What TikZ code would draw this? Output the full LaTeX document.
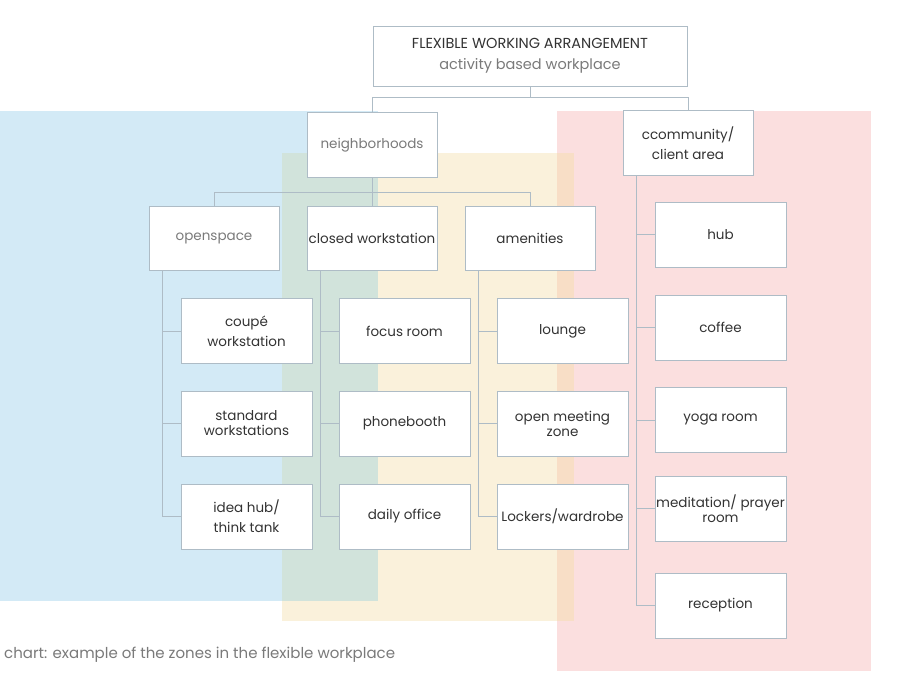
\documentclass[tikz,border=0pt]{standalone}
\usepackage{fontspec}
\setmainfont{Poppins}
\begin{document}
\begin{tikzpicture}[x=1pt,y=-1pt,
 bx/.style={draw=lineC,fill=white,line width=0.8pt,minimum width=130pt,minimum height=65pt,align=center,font=\fontsize{13.5}{20}\selectfont,text=txt,inner sep=0pt},
 tight/.style={font=\fontsize{13.5}{15}\selectfont},
 ln/.style={draw=lineC,line width=0.8pt}]
\definecolor{lineC}{HTML}{AEBCC6}
\definecolor{txt}{HTML}{333333}
\definecolor{lt}{HTML}{7A7A7A}
\definecolor{zb}{HTML}{D3EAF6}
\definecolor{zy}{HTML}{FAF1DB}
\definecolor{zg}{HTML}{D1E3DB}
\definecolor{zp}{HTML}{FBDFDF}
\definecolor{zo}{HTML}{F8DEC6}
\useasboundingbox (0,0) rectangle (897,682);
\fill[white] (0,0) rectangle (897,682);
\fill[zb] (0,111) rectangle (378,601);
\fill[zy] (282,153) rectangle (574,621);
\fill[zg] (282,153) rectangle (378,601);
\fill[zp] (557,111) rectangle (871,671);
\fill[zo] (557,153) rectangle (574,621);
% top
\node[bx,minimum width=314pt,minimum height=60pt,font=\fontsize{14.5}{21}\selectfont] (top) at (530,56) {FLEXIBLE WORKING ARRANGEMENT\\\textcolor{lt}{activity based workplace}};
\node[bx,text=lt] (nb) at (372,145) {neighborhoods};
\node[bx] (cc) at (688,143) {ccommunity/\\client area};
\node[bx,text=lt,minimum height=64pt] (os) at (214,238) {openspace};
\node[bx,minimum height=64pt] (cw) at (372,238) {closed workstation};
\node[bx,minimum height=64pt] (am) at (530,238) {amenities};
% kids
\node[bx,minimum width=131pt] (a1) at (246.5,331) {coupé\\workstation};
\node[bx,minimum width=131pt,tight] (a2) at (246.5,423.5) {standard\\workstations};
\node[bx,minimum width=131pt] (a3) at (246.5,516.5) {idea hub/\\think tank};
\node[bx,minimum width=131pt] (b1) at (404.5,331) {focus room};
\node[bx,minimum width=131pt] (b2) at (404.5,423.5) {phonebooth};
\node[bx,minimum width=131pt] (b3) at (404.5,516.5) {daily office};
\node[bx,minimum width=131pt] (c1) at (562.5,331) {lounge};
\node[bx,minimum width=131pt,tight] (c2) at (562.5,423.5) {open meeting\\zone};
\node[bx,minimum width=131pt] (c3) at (562.5,516.5) {Lockers/wardrobe};
\node[bx,minimum width=131pt] (d1) at (720.5,234.5) {hub};
\node[bx,minimum width=131pt] (d2) at (720.5,327.5) {coffee};
\node[bx,minimum width=131pt] (d3) at (720.5,420) {yoga room};
\node[bx,minimum width=131pt,tight] (d4) at (720.5,508.5) {meditation/ prayer\\room};
\node[bx,minimum width=131pt] (d5) at (720.5,605.5) {reception};
% connectors
\draw[ln] (top.south) -- ++(0,11) coordinate (t1);
\draw[ln] (nb.north) |- (t1) -| (cc.north);
\draw[ln] (nb.south) -- ++(0,14) coordinate (n1);
\draw[ln] (os.north) |- (n1) -| (am.north);
\draw[ln] (cw.north) -- (n1);
\foreach \p/\x/\k in {os/162/a,cw/320/b,am/478/c}{
  \draw[ln] (\p.south -| \x,0) |- (\k3.west);
  \draw[ln] (\x,0 |- \k1.west) -- (\k1.west);
  \draw[ln] (\x,0 |- \k2.west) -- (\k2.west);
}
\draw[ln] (cc.south -| 636,0) |- (d5.west);
\foreach \k in {d1,d2,d3,d4}{\draw[ln] (636,0 |- \k.west) -- (\k.west);}
\node[anchor=west,text=lt,font=\fontsize{15}{16}\selectfont,inner sep=0pt] (cap) at (4,655) {chart: example of the zones in the flexible workplace};
\end{tikzpicture}
\end{document}
